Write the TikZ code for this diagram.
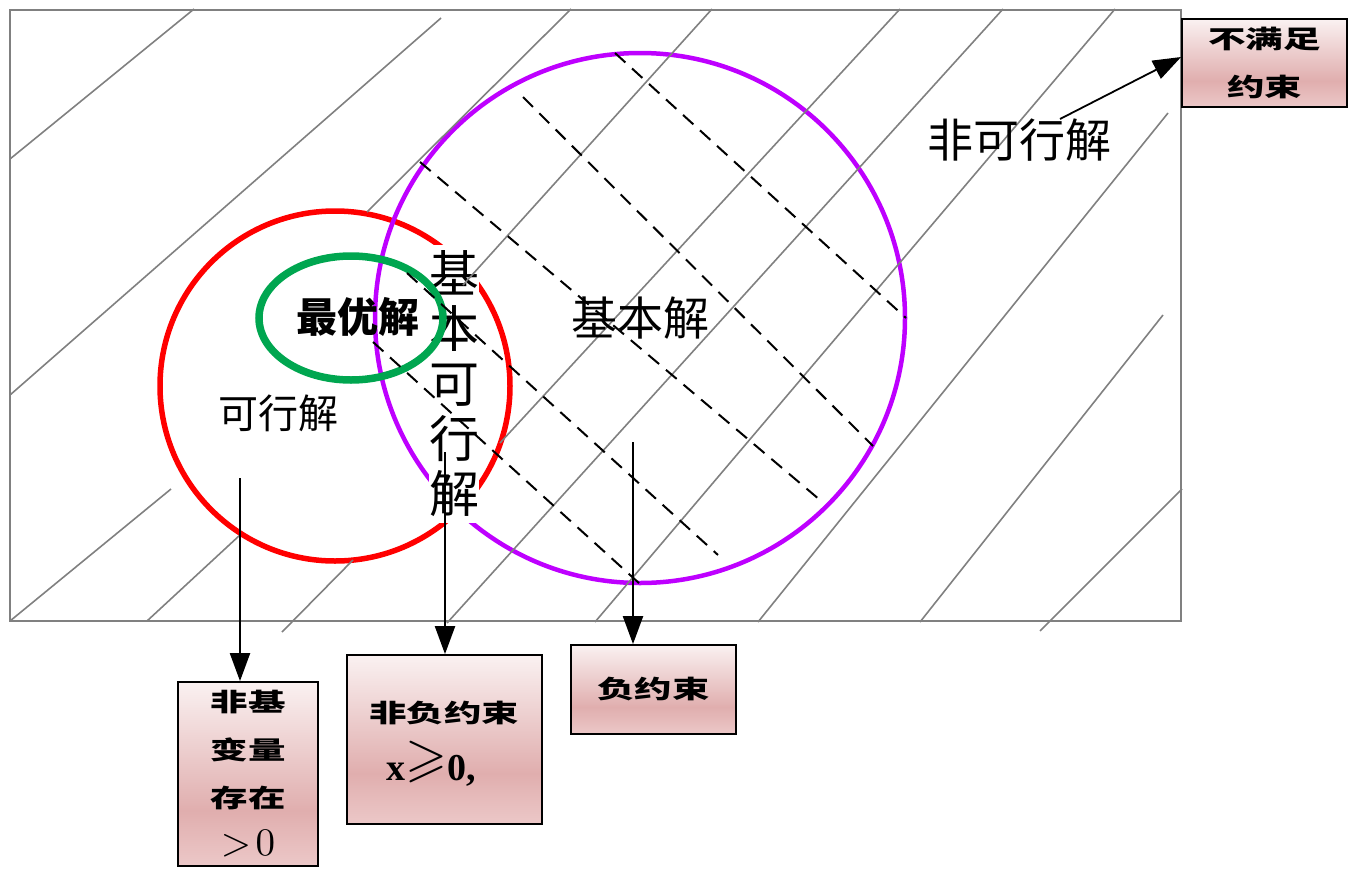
\documentclass[tikz,border=0pt]{standalone}
\usepackage{amssymb}
\usepackage{fontspec}
\newfontfamily\cjk{Noto Sans CJK SC}
\newfontfamily\cjkbox[FakeStretch=1.5]{Noto Sans CJK SC}
\newfontfamily\tms{Liberation Serif}
\usetikzlibrary{arrows.meta}
\definecolor{hatchgray}{RGB}{128,128,128}
\definecolor{cred}{RGB}{255,0,0}
\definecolor{cpurple}{RGB}{190,0,255}
\definecolor{cgreen}{RGB}{0,166,80}
\definecolor{bxtop}{RGB}{250,241,241}
\definecolor{bxmid}{RGB}{224,174,174}
\definecolor{bxbot}{RGB}{236,200,200}
\pgfdeclareverticalshading{boxshade}{100bp}{color(0bp)=(bxbot); color(25bp)=(bxbot); color(40bp)=(bxmid); color(75bp)=(bxtop); color(100bp)=(bxtop)}
\tikzset{
  hatch/.style={draw=hatchgray, line width=1.6pt},
  dline/.style={draw=black, line width=2pt, dash pattern=on 14pt off 9pt},
  arr/.style={draw=black, line width=2.2pt, -{Triangle[length=28pt,width=20pt]}},
  bx/.style={draw=black, line width=1.8pt, shade, shading=boxshade, inner sep=0pt, align=center, font={\cjkbox\bfseries\fontsize{25}{48}\selectfont}},
  lbl/.style={inner sep=0pt, font={\cjk\fontsize{46}{50}\selectfont}},
}
\begin{document}
\begin{tikzpicture}[x=1pt,y=-1pt]
\useasboundingbox (0,0) rectangle (1353,873);
\draw[hatchgray, line width=1.3pt] (10,10) rectangle (1181,621);
% circles
\draw[cred, line width=5.5pt] (335,386) circle[radius=175pt];
\draw[cpurple, line width=4.5pt] (640,318) circle[radius=265pt];
% vertical label with white background
\node[fill=white, inner xsep=0pt, inner ysep=6pt, align=center, font={\cjk\fontsize{50}{55}\selectfont}] (jbkx) at (454,384) {基\\本\\可\\行\\解};
\draw[cgreen, line width=7.5pt] (351,318) ellipse[x radius=92pt, y radius=62pt];
% hatch lines
\foreach \xa/\ya/\xb/\yb in {10/159/194/9, 10/395/441/18, 10/621/171/489, 147/621/240/535, 282/632/353/560, 367/212/571/9, 463/285/712/9, 500/443/900/9, 447/623/1003/9, 595/622/1115/9, 758/622/1168/113, 920/622/1163/315, 1040/631/1182/489}
  \draw[hatch] (\xa,\ya) -- (\xb,\yb);
% dashed lines
\foreach \xa/\ya/\xb/\yb in {615/53/906/318, 523/97/873/446, 420/162/820/500, 407/273/718/555, 373/342/640/584}
  \draw[dline] (\xa,\ya) -- (\xb,\yb);
% labels
\node[lbl] (fkx) at (1019,140) {非可行解};
\node[lbl] (jbj) at (640,318) {基本解};
\node[lbl, font={\cjk\fontsize{40}{44}\selectfont}] (kxj) at (278,413) {可行解};
\node[lbl, font={\cjk\bfseries\fontsize{41}{44}\selectfont}] (zyj) at (358,317) {最优解};
% boxes
\node[bx, minimum width=140pt, minimum height=184pt] (b1) at (248,774) {非基\\变量\\存在\\{\fontsize{10}{12}\selectfont\scalebox{3.9}{$>\!0$}}};
\node[bx, minimum width=195pt, minimum height=169pt] (b2) at (444.5,739.5) {};
\node[inner sep=0pt, font={\cjkbox\bfseries\fontsize{25}{28}\selectfont}] (b2t) at (444,713) {非负约束};
\node[inner sep=0pt, anchor=base west, font={\tms\bfseries\fontsize{38}{40}\selectfont}] (b2m) at (386,780) {x\raisebox{5pt}{\fontsize{10}{12}\selectfont\scalebox{5.4}{$\geqslant$}}0,};
\node[bx, minimum width=165pt, minimum height=89pt] (b3) at (653.5,689.5) {负约束};
\node[bx, minimum width=165pt, minimum height=88pt] (b4) at (1264.5,63) {不满足\\约束};
% arrows
\coordinate (s1) at (240,478);
\coordinate (s2) at (445,452);
\coordinate (s3) at (633,442);
\coordinate (s4) at (1060,119);
\draw[arr] (s1) -- (s1 |- b1.north);
\draw[arr] (s2) -- (s2 |- b2.north);
\draw[arr] (s3) -- (s3 |- b3.north);
\draw[arr, line width=1.8pt] (s4) -- ([yshift=6pt]b4.west);
\end{tikzpicture}
\end{document}
